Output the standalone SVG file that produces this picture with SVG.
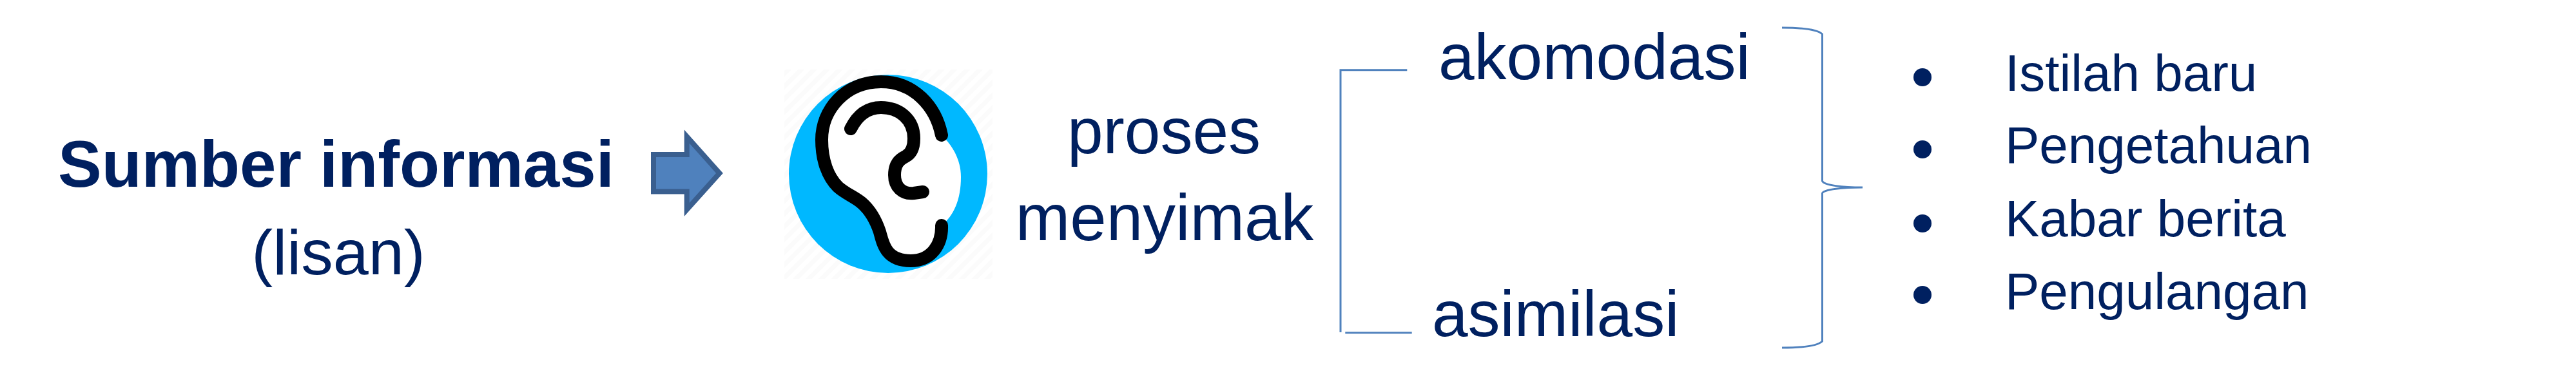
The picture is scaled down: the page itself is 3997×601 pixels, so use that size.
<svg xmlns="http://www.w3.org/2000/svg" width="3997" height="601" viewBox="0 0 3997 601">
  <style>
    text { font-family: "Liberation Sans", Arial, sans-serif; fill: #002060; }
    .main { font-size: 100px; }
    .wide { font-size: 101.500px; }
    .small { font-size: 99px; }
    .bold { font-size: 101.500px; font-weight: 700; }
    .item { font-size: 80px; }
    .mid { text-anchor: middle; }
    .line { fill: none; stroke: #4f81bd; stroke-width: 3; }
    .ear { stroke: #000; stroke-width: 20; stroke-linecap: round; stroke-linejoin: round; fill: none; }
  </style>
  <defs>
    <pattern id="hatch" width="14" height="14" patternUnits="userSpaceOnUse" patternTransform="rotate(45)">
      <rect width="14" height="14" fill="#ffffff"/>
      <rect width="7" height="14" fill="#fbfbfb"/>
    </pattern>
  </defs>
  <rect width="3997" height="601" fill="#ffffff"/>

  <g id="source">
    <text class="bold" x="90" y="290">Sumber informasi</text>
    <text class="small mid" x="525" y="426">(lisan)</text>
  </g>

  <g id="arrow">
    <path d="M1014 240H1065.700V212L1116.500 269L1065.700 325.500V297.500H1014Z" fill="#4f81bd" stroke="#3a5f8f" stroke-width="8" stroke-miterlimit="10"/>
  </g>

  <g id="ear-icon">
    <rect x="1217" y="108" width="323" height="325" fill="url(#hatch)"/>
    <circle cx="1378" cy="270" r="154" fill="#00b8ff"/>
    <path d="M1461 210C1452 165 1418 127 1367 127C1312 127 1275 170 1275 217C1275 250 1285 275 1300 290C1312 301 1325 305 1337 315C1352 328 1360 345 1365 360C1370 378 1374 405 1413 405C1445 405 1462 380 1461 350C1480 335 1491 310 1491 275C1491 250 1480 228 1461 210Z" fill="#ffffff"/>
    <path class="ear" d="M1461 210C1452 165 1418 127 1367 127C1312 127 1275 170 1275 217C1275 250 1285 275 1300 290C1312 301 1325 305 1337 315C1352 328 1360 345 1365 360C1370 378 1374 405 1413 405C1445 405 1462 380 1461 350"/>
    <path class="ear" d="M1320 200C1330 180 1345 167 1367 167C1395 167 1418 185 1418 215C1418 228 1415 238 1405 243C1395 248 1388 255 1388 272C1388 290 1400 302 1418 300L1432 298"/>
  </g>

  <g id="proses">
    <text class="main mid" x="1806" y="238">proses</text>
    <text class="wide mid" x="1807" y="373">menyimak</text>
  </g>

  <g id="akomodasi"><text class="main" x="2232" y="123">akomodasi</text></g>
  <g id="asimilasi"><text class="main" x="2222" y="522">asimilasi</text></g>

  <g id="connectors">
    <path class="line" d="M2183.300 108.700H2080V516"/>
    <path class="line" d="M2087.300 516.700H2190.700"/>
    <path class="line" d="M2765 43C2795 43 2820 46 2827.500 53V281C2830 288 2860 291 2890 291C2860 291 2830 294 2827.500 300V530C2820 537 2795 540 2765 540"/>
  </g>

  <g id="list">
    <circle cx="2983" cy="120" r="14" fill="#002060"/>
    <text class="item" x="3111" y="141">Istilah baru</text>
    <circle cx="2983" cy="232" r="14" fill="#002060"/>
    <text class="item" x="3111" y="253">Pengetahuan</text>
    <circle cx="2983" cy="347" r="14" fill="#002060"/>
    <text class="item" x="3111" y="367">Kabar berita</text>
    <circle cx="2983" cy="458" r="14" fill="#002060"/>
    <text class="item" x="3111" y="480">Pengulangan</text>
  </g>
</svg>
